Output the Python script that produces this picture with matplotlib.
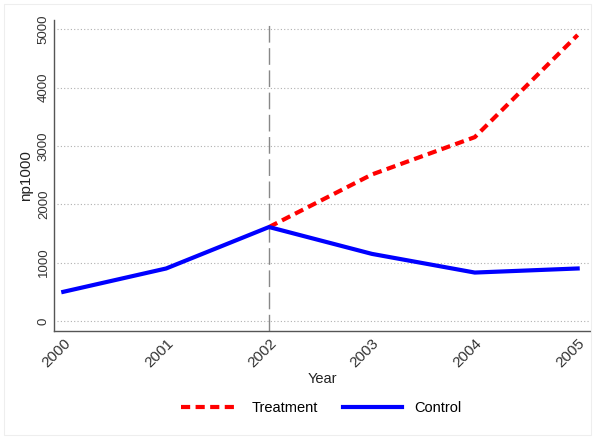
import matplotlib
matplotlib.use("Agg")
import matplotlib.pyplot as plt
from matplotlib.patches import Rectangle

years = [2000, 2001, 2002, 2003, 2004, 2005]
control = [500, 900, 1610, 1150, 830, 900]
treat_years = [2002, 2003, 2004, 2005]
treatment = [1610, 2510, 3150, 4900]
yticks = [0, 1000, 2000, 3000, 4000, 5000]

plt.rcParams['font.family'] = ['Liberation Sans', 'DejaVu Sans']

fig = plt.figure(figsize=(5.95, 4.38), dpi=100)
fig.patches.append(Rectangle((0.007, 0.007), 0.986, 0.984, transform=fig.transFigure,
                             fill=False, edgecolor='#eeeeee', linewidth=0.8))
ax = fig.add_axes([0.0908, 0.2443, 0.9008, 0.7097])

for y in yticks:
    ax.axhline(y, xmin=0.006, color='#b0b0b0', linestyle=(0, (1, 2)), linewidth=0.8, zorder=0)
ax.axvline(2002, color='#888888', linestyle=(0, (12, 4)), linewidth=1.0, zorder=1)

ax.plot(treat_years, treatment, color='#ff0000', linestyle=(0, (2.2, 1.3)),
        linewidth=3, label='Treatment', zorder=3)
ax.plot(years, control, color='#0000ff', linewidth=3, label='Control', zorder=3)

ax.set_xlim(1999.91, 2005.12)
ax.set_ylim(-171, 5154)
ax.set_xticks(years)
ax.set_xticklabels([str(y) for y in years], rotation=45, ha='right', rotation_mode='anchor',
                   fontsize=11)
ax.set_yticks(yticks)
ax.set_yticklabels([str(y) for y in yticks], rotation=90, va='center', fontsize=9.5)

ax.spines['top'].set_visible(False)
ax.spines['right'].set_visible(False)
for s in ('left', 'bottom'):
    ax.spines[s].set_color('#555555')
    ax.spines[s].set_linewidth(1.0)
ax.tick_params(axis='both', length=0, labelcolor='#333333')
ax.tick_params(axis='y', pad=3)
ax.tick_params(axis='x', pad=4)

ax.set_xlabel('Year', fontsize=10.5, color='#222222', labelpad=1)
ax.set_ylabel('np1000', fontsize=11, color='#222222')
ax.yaxis.set_label_coords(-0.040, 0.5)

fig.legend(loc='center', bbox_to_anchor=(0.54, 0.069), ncol=2, frameon=False,
           fontsize=10.5, handlelength=4.0, columnspacing=1.7, handletextpad=0.9)

fig.savefig('out.png', dpi=100)
